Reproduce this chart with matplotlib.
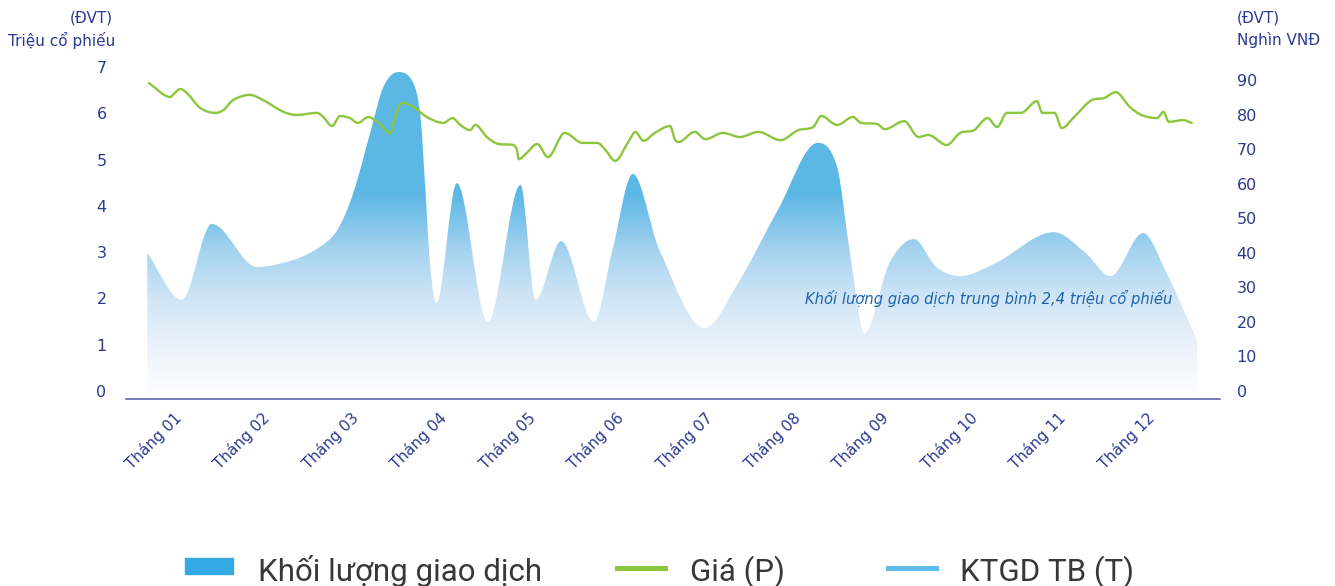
import numpy as np
import matplotlib.pyplot as plt
from matplotlib.path import Path
from matplotlib.patches import PathPatch, Rectangle
from matplotlib.colors import LinearSegmentedColormap
from matplotlib.lines import Line2D

# x positions are in months (0 = Tháng 01, 11 = Tháng 12)
months = ['Tháng 01', 'Tháng 02', 'Tháng 03', 'Tháng 04', 'Tháng 05', 'Tháng 06',
          'Tháng 07', 'Tháng 08', 'Tháng 09', 'Tháng 10', 'Tháng 11', 'Tháng 12']

# khối lượng giao dịch (triệu cổ phiếu)
vol_x = [-0.36, 0.03, 0.37, 0.88, 1.29, 1.59, 1.79, 1.97, 2.16, 2.31, 2.48, 2.65, 2.73,
         2.78, 2.84, 2.91, 3.14, 3.49, 3.86, 4.03, 4.32, 4.69, 4.90, 5.13, 5.43, 5.94,
         6.32, 6.77, 7.22, 7.44, 7.58, 7.75, 8.03, 8.31, 8.56, 8.83, 9.23, 9.89, 10.25,
         10.53, 10.90, 11.15, 11.51]
vol_y = [2.98, 1.97, 3.61, 2.68, 2.83, 3.11, 3.48, 4.28, 5.57, 6.57, 6.89, 6.65, 5.92,
         4.49, 2.68, 1.90, 4.49, 1.49, 4.45, 1.97, 3.24, 1.49, 3.05, 4.69, 3.05, 1.36,
         2.33, 3.91, 5.36, 4.84, 3.05, 1.25, 2.76, 3.28, 2.68, 2.48, 2.76, 3.43, 2.98,
         2.48, 3.41, 2.61, 1.10]

# giá (nghìn VNĐ)
price_x = [-0.34, -0.10, -0.05, 0.01, 0.09, 0.24, 0.41, 0.50, 0.61, 0.80, 0.95, 1.18,
           1.33, 1.56, 1.63, 1.73, 1.82, 1.93, 2.02, 2.14, 2.24, 2.39, 2.44, 2.52, 2.65,
           2.80, 2.99, 3.09, 3.18, 3.29, 3.35, 3.48, 3.61, 3.78, 3.82, 3.84, 3.93, 4.05,
           4.17, 4.36, 4.56, 4.73, 4.82, 4.93, 5.08, 5.16, 5.25, 5.38, 5.55, 5.61, 5.65,
           5.83, 5.95, 6.15, 6.34, 6.55, 6.80, 7.00, 7.17, 7.26, 7.44, 7.62, 7.71, 7.89,
           7.98, 8.20, 8.36, 8.47, 8.68, 8.83, 8.99, 9.14, 9.25, 9.36, 9.52, 9.70, 9.76,
           9.90, 9.98, 10.12, 10.32, 10.46, 10.59, 10.75, 10.88, 11.06, 11.13, 11.19,
           11.35, 11.45]
price_y = [89.1, 85.1, 86.2, 87.4, 86.2, 81.9, 80.5, 81.3, 84.2, 85.7, 84.2, 80.8,
           79.9, 80.5, 79.3, 76.7, 79.6, 79.0, 77.6, 79.3, 77.9, 74.7, 79.3, 83.4, 82.2,
           79.3, 77.6, 79.0, 77.0, 75.5, 77.0, 73.5, 71.5, 71.2, 69.8, 67.1, 68.9, 71.5,
           67.7, 74.7, 71.8, 71.8, 69.8, 66.6, 72.1, 75.0, 72.4, 74.7, 76.7, 72.6, 72.1,
           75.0, 72.9, 74.7, 73.5, 75.0, 72.6, 75.5, 76.4, 79.6, 77.0, 79.3, 77.6, 77.3,
           75.8, 78.1, 73.5, 74.1, 71.2, 74.7, 75.5, 79.0, 76.4, 80.5, 80.5, 83.9, 80.5,
           80.5, 76.1, 79.3, 84.2, 84.8, 86.5, 82.2, 79.9, 79.0, 80.8, 77.9, 78.4, 77.6]

note = 'Khối lượng giao dịch trung bình 2,4 triệu cổ phiếu'

navy = '#2b3990'
green = '#8cc63f'
blue = '#5bb7e4'


def slopes(x, y):
    # central slopes, flat at turning points, limited to avoid overshoot
    x = np.asarray(x, float)
    y = np.asarray(y, float)
    d = np.diff(y) / np.diff(x)
    m = np.zeros(len(x))
    m[0] = d[0]
    m[-1] = d[-1]
    for k in range(1, len(x) - 1):
        if d[k - 1] * d[k] > 0:
            c = (y[k + 1] - y[k - 1]) / (x[k + 1] - x[k - 1])
            lim = 3 * min(abs(d[k - 1]), abs(d[k]))
            m[k] = np.sign(c) * min(abs(c), lim)
    return m


def smooth_path(x, y, base=None):
    m = slopes(x, y)
    verts = []
    codes = []
    if base is not None:
        verts.append((x[0], base))
        codes.append(Path.MOVETO)
        verts.append((x[0], y[0]))
        codes.append(Path.LINETO)
    else:
        verts.append((x[0], y[0]))
        codes.append(Path.MOVETO)
    for i in range(len(x) - 1):
        h = x[i + 1] - x[i]
        verts += [(x[i] + h / 3, y[i] + m[i] * h / 3),
                  (x[i + 1] - h / 3, y[i + 1] - m[i + 1] * h / 3),
                  (x[i + 1], y[i + 1])]
        codes += [Path.CURVE4] * 3
    if base is not None:
        verts.append((x[-1], base))
        codes.append(Path.LINETO)
        verts.append((x[0], base))
        codes.append(Path.CLOSEPOLY)
    return Path(verts, codes)


fig = plt.figure(figsize=(13.35, 5.86), dpi=100)
ax = fig.add_axes([0.0944, 0.3191, 0.8195, 0.5785])
ax2 = ax.twinx()

# area with vertical gradient
area = PathPatch(smooth_path(vol_x, vol_y, base=0), facecolor='none', edgecolor='none')
ax.add_patch(area)
cmap = LinearSegmentedColormap.from_list('vol', [
    (0.0, '#fdfdff'), (0.23, '#eaf2fb'), (0.47, '#cfe5f6'),
    (0.70, '#a6d3ef'), (0.86, '#7cc3ea'), (1.0, blue)])
grad = np.linspace(0, 1, 256).reshape(-1, 1)
im = ax.imshow(grad, extent=[-0.6, 11.77, 0, 4.3], origin='lower', aspect='auto',
               cmap=cmap, zorder=1)
im.set_clip_path(area)
top = ax.imshow(np.ones((2, 1)), extent=[-0.6, 11.77, 4.29, 7.2], origin='lower',
                aspect='auto', cmap=LinearSegmentedColormap.from_list('t', [blue, blue]),
                zorder=1)
top.set_clip_path(area)
ax.set_xlim(-0.6, 11.77)
ax.set_ylim(-0.173, 7.15)
ax2.set_ylim(-2.316, 95.8)

# price line
ax2.add_patch(PathPatch(smooth_path(price_x, price_y), facecolor='none',
                        edgecolor=green, lw=1.7, capstyle='round', joinstyle='round'))

ax.text(11.23, 1.99, note, ha='right', va='center', style='italic',
        fontsize=10.6, color='#1f63ad')

for a in (ax, ax2):
    for s in a.spines.values():
        s.set_visible(False)
ax.spines['bottom'].set_visible(True)
ax.spines['bottom'].set_color('#4f5a9f')
ax.spines['bottom'].set_linewidth(1.1)

ax.set_yticks(range(0, 8))
ax.tick_params(axis='y', length=0, pad=14, labelsize=11.5, labelcolor=navy)
ax2.set_yticks(range(0, 100, 10))
ax2.tick_params(axis='y', length=0, pad=12, labelsize=11.5, labelcolor=navy)

ax.set_xticks(range(12))
ax.set_xticklabels(months, rotation=45, ha='right', va='center', rotation_mode='anchor')
ax.tick_params(axis='x', length=0, pad=12, labelsize=11, labelcolor=navy)

fig.text(113 / 1335, 1 - 18 / 586, '(ĐVT)', ha='right', va='center', fontsize=11, color=navy)
fig.text(115 / 1335, 1 - 40 / 586, 'Triệu cổ phiếu', ha='right', va='center', fontsize=11, color=navy)
fig.text(1237 / 1335, 1 - 18 / 586, '(ĐVT)', ha='left', va='center', fontsize=11, color=navy)
fig.text(1237 / 1335, 1 - 40 / 586, 'Nghìn VNĐ', ha='left', va='center', fontsize=11, color=navy)

# legend drawn by hand at the bottom
yb = 1 - 581 / 586
fig.add_artist(Rectangle((185 / 1335, 1 - 574 / 586), 48 / 1335, 16 / 586,
                         transform=fig.transFigure, color='#35a9e1'))
fig.add_artist(Line2D([617 / 1335, 665 / 1335], [1 - 568 / 586] * 2,
                      transform=fig.transFigure, color=green, lw=3.6))
fig.add_artist(Line2D([888 / 1335, 936 / 1335], [1 - 568 / 586] * 2,
                      transform=fig.transFigure, color='#5bbde8', lw=3.6))
for xp, label in [(258, 'Khối lượng giao dịch'), (690, 'Giá (P)'), (960, 'KTGD TB (T)')]:
    fig.text(xp / 1335, yb, label, ha='left', va='baseline', fontsize=22.5,
             family=['Roboto', 'DejaVu Sans'], color='#383838')

fig.savefig('out.png', dpi=100)
